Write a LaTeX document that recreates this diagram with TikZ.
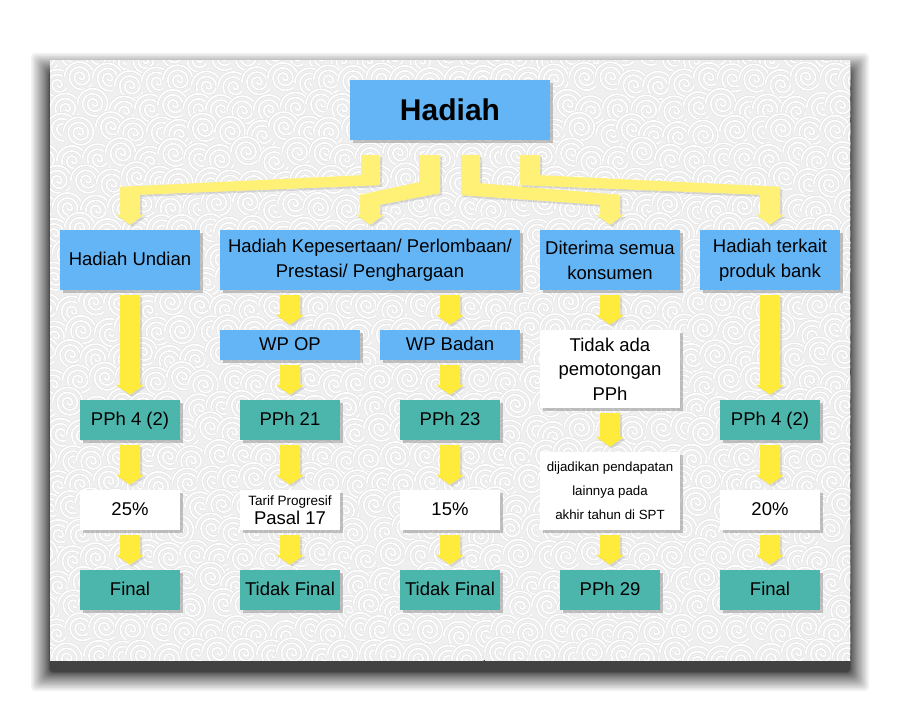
\documentclass[tikz,border=0pt]{standalone}
\usepackage{fontspec}
\setmainfont{Liberation Sans}
\usetikzlibrary{calc,shadows}
\definecolor{bxblue}{HTML}{64B5F6}
\definecolor{bxteal}{HTML}{4DB6AC}
\definecolor{yelA}{HTML}{FFEB3B}
\definecolor{yelB}{HTML}{FFF176}
\definecolor{panelbg}{HTML}{EFEFEF}
\definecolor{swline}{HTML}{E0E0E0}
\tikzset{
  box/.style={rectangle, inner sep=0pt, align=center, text=black,
    font=\fontsize{18.5}{25}\selectfont,
    drop shadow={shadow xshift=2.5pt, shadow yshift=-2.5pt, opacity=0.45}},
  one/.style={text height=13pt, text depth=3pt},
  bluebox/.style={box, fill=bxblue},
  tealbox/.style={box, fill=bxteal, one},
  whitebox/.style={box, fill=white},
  yarrow/.style={fill=yelA, drop shadow={shadow xshift=2pt, shadow yshift=-2pt, opacity=0.25}},
  ybend/.style={fill=yelB, drop shadow={shadow xshift=2pt, shadow yshift=-2pt, opacity=0.25}},
  swirl/.style={draw=swline, line width=0.5pt, double=white, double distance=1.7pt},
}
\newcommand\yelarrow[2]{%
  \fill[yarrow] ($(#1.south)+(-10,5)$) -- ($(#1.south)+(10,5)$)
    -- ($(#2.north)+(10,-15)$) -- ($(#2.north)+(14,-15)$) -- ($(#2.north)+(0,-5)$)
    -- ($(#2.north)+(-14,-15)$) -- ($(#2.north)+(-10,-15)$) -- cycle;}
\begin{document}
\begin{tikzpicture}[x=1pt,y=-1pt]
\useasboundingbox (0,0) rectangle (900,720);
\fill[white] (0,0) rectangle (900,720);
% panel shadow (soft, offset downwards)
\foreach \i in {1,...,24} {
  \pgfmathsetmacro\ee{19*(\i/24)^2}
  \fill[black, opacity=0.05, rounded corners=4pt] (50-\ee,72-\ee) rectangle (850+\ee,672+\ee);
}
\fill[panelbg] (50,60) rectangle (850,660);
% swirl pattern
\begin{scope}
\clip (50,60) rectangle (850,660);
\pgfmathsetseed{7}
\foreach \r in {0,...,24} {
  \foreach \c in {0,...,33} {
    \pgfmathsetmacro\px{45+\c*25+mod(\r,2)*12.5+rand*5}
    \pgfmathsetmacro\py{57+\r*25+rand*5}
    \fill[panelbg] (\px,\py) circle (17);
    \draw[swirl] (\px,\py) arc[start angle=180,end angle=0,radius=2.5]
      arc[start angle=0,end angle=-180,radius=5]
      arc[start angle=180,end angle=0,radius=7.5]
      arc[start angle=0,end angle=-180,radius=10]
      arc[start angle=180,end angle=0,radius=12.5]
      arc[start angle=0,end angle=-180,radius=15];
  }
}
\end{scope}
% nodes
\node[bluebox, minimum width=200pt, minimum height=60pt, font=\fontsize{30}{32}\selectfont\bfseries, text height=22pt, text depth=2pt] (hd) at (450,110) {Hadiah};
\node[bluebox, one, minimum width=140pt, minimum height=60pt] (u) at (130,260) {Hadiah Undian};
\node[bluebox, minimum width=300pt, minimum height=60pt] (kp) at (370,260) {Hadiah Kepesertaan/ Perlombaan/\\Prestasi/ Penghargaan};
\node[bluebox, minimum width=140pt, minimum height=60pt] (dt) at (610,260) {Diterima semua\\konsumen};
\node[bluebox, minimum width=140pt, minimum height=60pt] (tk) at (770,260) {Hadiah terkait\\produk bank};
\node[bluebox, one, minimum width=140pt, minimum height=30pt] (op) at (290,345) {WP OP};
\node[bluebox, one, minimum width=140pt, minimum height=30pt] (bd) at (450,345) {WP Badan};
\node[whitebox, minimum width=140pt, minimum height=78pt, font=\fontsize{18.5}{24.5}\selectfont] (ta) at (610,369) {Tidak ada\\pemotongan\\PPh};
\node[tealbox, minimum width=100pt, minimum height=40pt] (pa) at (130,420) {PPh 4 (2)};
\node[tealbox, minimum width=100pt, minimum height=40pt] (pb) at (290,420) {PPh 21};
\node[tealbox, minimum width=100pt, minimum height=40pt] (pc) at (450,420) {PPh 23};
\node[tealbox, minimum width=100pt, minimum height=40pt] (pd) at (770,420) {PPh 4 (2)};
\node[whitebox, one, minimum width=100pt, minimum height=40pt] (ra) at (130,510) {25\%};
\node[whitebox, minimum width=100pt, minimum height=40pt, font=\fontsize{18.5}{19}\selectfont] (rb) at (290,510) {{\fontsize{13.5}{14}\selectfont Tarif Progresif}\\Pasal 17};
\node[whitebox, one, minimum width=100pt, minimum height=40pt] (rc) at (450,510) {15\%};
\node[whitebox, minimum width=140pt, minimum height=78pt, font=\fontsize{13.3}{24}\selectfont] (dj) at (610,491) {dijadikan pendapatan\\lainnya pada\\akhir tahun di SPT};
\node[whitebox, one, minimum width=100pt, minimum height=40pt] (rd) at (770,510) {20\%};
\node[tealbox, minimum width=100pt, minimum height=40pt] (fa) at (130,590) {Final};
\node[tealbox, minimum width=100pt, minimum height=40pt] (fb) at (290,590) {Tidak Final};
\node[tealbox, minimum width=100pt, minimum height=40pt] (fc) at (450,590) {Tidak Final};
\node[tealbox, minimum width=100pt, minimum height=40pt] (fd) at (610,590) {PPh 29};
\node[tealbox, minimum width=100pt, minimum height=40pt] (fe) at (770,590) {Final};
% bent connectors from Hadiah
\fill[ybend] ($(hd.south)+(-89,15)$) -- ($(hd.south)+(-70,15)$) -- ($(hd.south)+(-70,45)$)
  -- ($(u.north)+(10,-35)$) -- ($(u.north)+(10,-15)$) -- ($(u.north)+(14,-15)$) -- ($(u.north)+(0,-5)$)
  -- ($(u.north)+(-14,-15)$) -- ($(u.north)+(-10,-15)$) -- ($(u.north)+(-10,-43)$)
  -- ($(hd.south)+(-89,35)$) -- cycle;
\fill[ybend] ($(hd.south)+(-31,15)$) -- ($(hd.south)+(-10,15)$) -- ($(hd.south)+(-10,53)$)
  -- ($(kp.north)+(10,-25)$) -- ($(kp.north)+(10,-15)$) -- ($(kp.north)+(14,-15)$) -- ($(kp.north)+(0,-5)$)
  -- ($(kp.north)+(-14,-15)$) -- ($(kp.north)+(-10,-15)$) -- ($(kp.north)+(-10,-35)$)
  -- ($(hd.south)+(-31,42)$) -- cycle;
\fill[ybend] ($(hd.south)+(11,15)$) -- ($(hd.south)+(30,15)$) -- ($(hd.south)+(30,43)$)
  -- ($(dt.north)+(10,-35)$) -- ($(dt.north)+(10,-15)$) -- ($(dt.north)+(14,-15)$) -- ($(dt.north)+(0,-5)$)
  -- ($(dt.north)+(-14,-15)$) -- ($(dt.north)+(-10,-15)$) -- ($(dt.north)+(-10,-25)$)
  -- ($(hd.south)+(11,55)$) -- cycle;
\fill[ybend] ($(hd.south)+(70,15)$) -- ($(hd.south)+(90,15)$) -- ($(hd.south)+(90,35)$)
  -- ($(tk.north)+(10,-43)$) -- ($(tk.north)+(10,-15)$) -- ($(tk.north)+(14,-15)$) -- ($(tk.north)+(0,-5)$)
  -- ($(tk.north)+(-14,-15)$) -- ($(tk.north)+(-10,-15)$) -- ($(tk.north)+(-10,-35)$)
  -- ($(hd.south)+(70,45)$) -- cycle;
% vertical arrows
\yelarrow{u}{pa}
\yelarrow{pa}{ra}
\yelarrow{ra}{fa}
\yelarrow{op}{pb}
\yelarrow{pb}{rb}
\yelarrow{rb}{fb}
\yelarrow{bd}{pc}
\yelarrow{pc}{rc}
\yelarrow{rc}{fc}
\yelarrow{dt}{ta}
\yelarrow{ta}{dj}
\yelarrow{dj}{fd}
\yelarrow{tk}{pd}
\yelarrow{pd}{rd}
\yelarrow{rd}{fe}
\coordinate (kpop) at ($(kp.south)+(-80,0)$);
\coordinate (kpbd) at ($(kp.south)+(80,0)$);
\fill[yarrow] ($(kpop)+(-10,5)$) -- ($(kpop)+(10,5)$)
    -- ($(op.north)+(10,-15)$) -- ($(op.north)+(14,-15)$) -- ($(op.north)+(0,-5)$)
    -- ($(op.north)+(-14,-15)$) -- ($(op.north)+(-10,-15)$) -- cycle;
\fill[yarrow] ($(kpbd)+(-10,5)$) -- ($(kpbd)+(10,5)$)
    -- ($(bd.north)+(10,-15)$) -- ($(bd.north)+(14,-15)$) -- ($(bd.north)+(0,-5)$)
    -- ($(bd.north)+(-14,-15)$) -- ($(bd.north)+(-10,-15)$) -- cycle;
\end{tikzpicture}
\end{document}
